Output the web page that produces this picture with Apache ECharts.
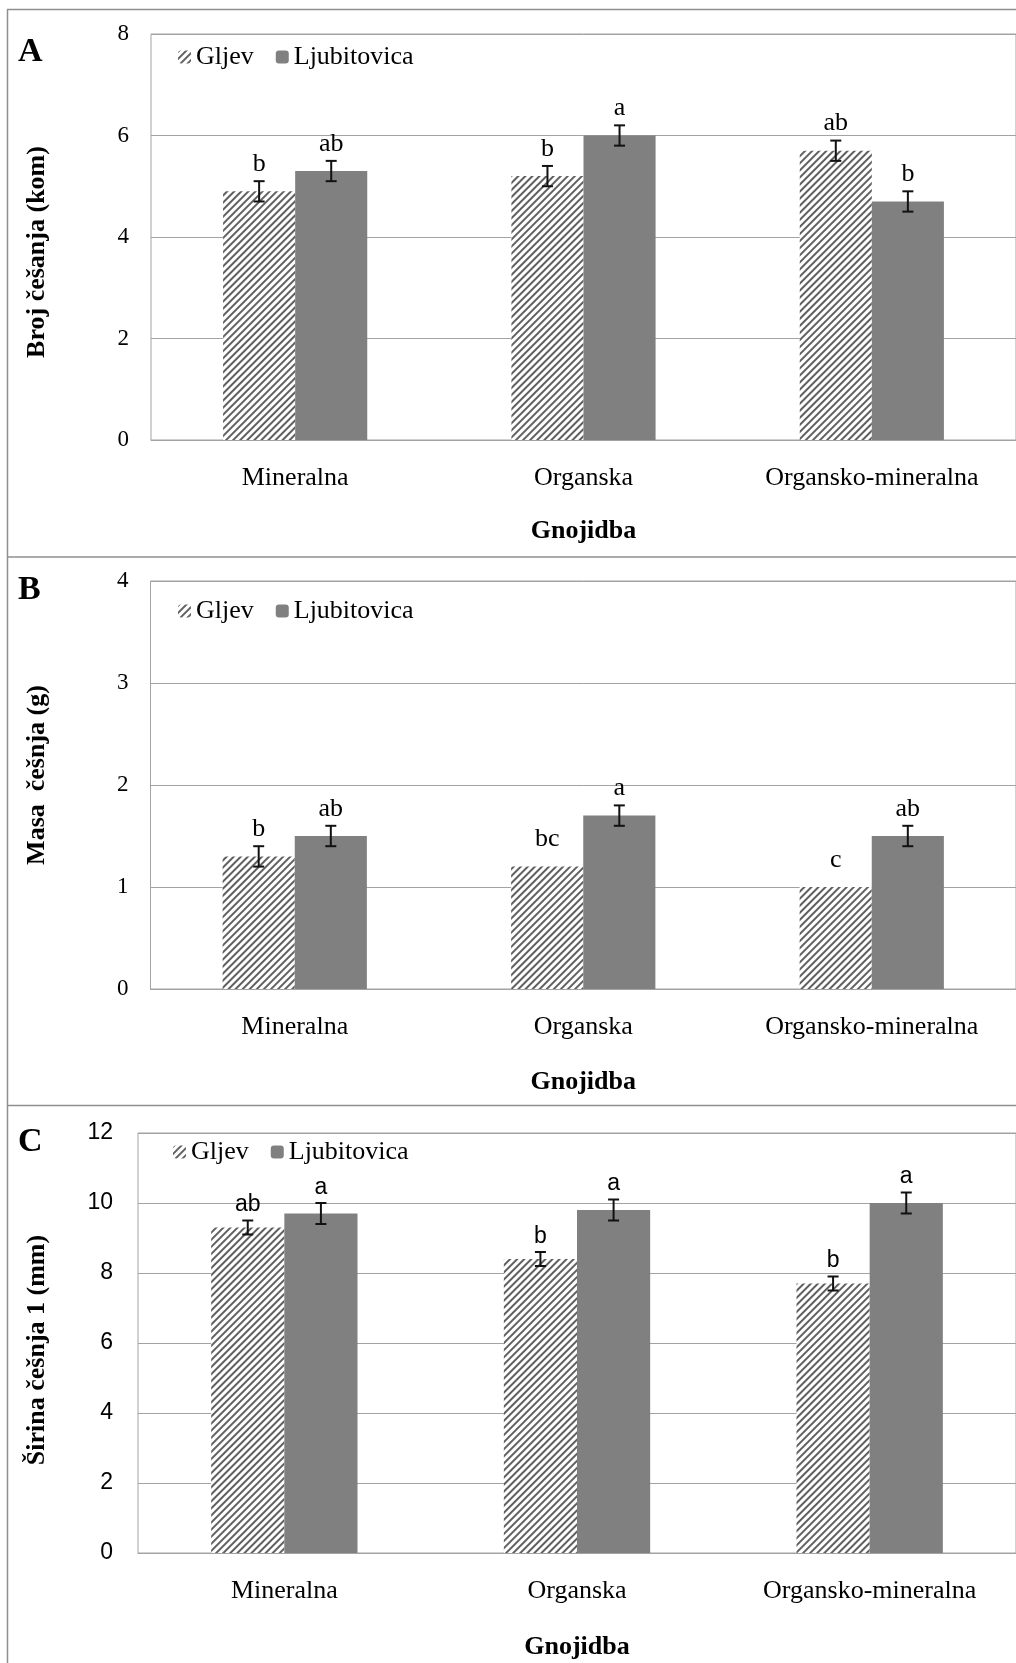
<!DOCTYPE html>
<html>
<head>
<meta charset="utf-8">
<script src="https://cdn.jsdelivr.net/npm/echarts@6/dist/echarts.min.js"></script>
<style>
  html, body { margin: 0; padding: 0; background: #fff; }
  #chart { width: 1016px; height: 1663px; }
</style>
</head>
<body>
<div id="chart"></div>
<script>
// Fertilisation treatments and garlic cultivars
const categories = ['Mineralna', 'Organska', 'Organsko-mineralna'];
const cultivars = ['Gljev', 'Ljubitovica'];

// A: number of cloves (kom)
const brojGljev = [4.9, 5.2, 5.7];
const brojLjub = [5.3, 6.0, 4.7];
const brojGljevErr = [0.2, 0.2, 0.2];
const brojLjubErr = [0.2, 0.2, 0.2];
const brojGljevLetters = ['b', 'b', 'ab'];
const brojLjubLetters = ['ab', 'a', 'b'];
const brojTicks = [0, 2, 4, 6, 8];

// B: clove mass (g)
const masaGljev = [1.3, 1.2, 1.0];
const masaLjub = [1.5, 1.7, 1.5];
const masaGljevErr = [0.1, 0.1, 0.1];
const masaLjubErr = [0.1, 0.1, 0.1];
const masaGljevErrDrawn = [true, false, false];
const masaLjubErrDrawn = [true, true, true];
const masaGljevLetters = ['b', 'bc', 'c'];
const masaLjubLetters = ['ab', 'a', 'ab'];
const masaTicks = [0, 1, 2, 3, 4];

// C: clove width 1 (mm)
const sirinaGljev = [9.3, 8.4, 7.7];
const sirinaLjub = [9.7, 9.8, 10.0];
const sirinaGljevErr = [0.2, 0.2, 0.2];
const sirinaLjubErr = [0.3, 0.3, 0.3];
const sirinaGljevLetters = ['ab', 'b', 'b'];
const sirinaLjubLetters = ['a', 'a', 'a'];
const sirinaTicks = [0, 2, 4, 6, 8, 10, 12];

const SERIF = "'Liberation Serif', 'Times New Roman', serif";
const SANS = "'Liberation Sans', Arial, sans-serif";
const GRID_GRAY = '#a3a3a3';
const FRAME_GRAY = '#8f8f8f';
const BAR_GRAY = '#808080';

const panels = [
  {
    letter: 'A', letterY: 52, yTitle: 'Broj češanja (kom)', yTitleY: 252,
    grid: { left: 151, top: 34, width: 865, height: 406 },
    legendTop: 44, legendLeft: 178, nameGap: 78,
    tickFont: SERIF, tickSize: 23, tickMargin: 22,
    letterFont: SERIF, letterSize: 26, letterLift: 4,
    ticks: brojTicks,
    g: brojGljev, l: brojLjub, gErr: brojGljevErr, lErr: brojLjubErr,
    gDrawn: [true, true, true], lDrawn: [true, true, true],
    gLet: brojGljevLetters, lLet: brojLjubLetters
  },
  {
    letter: 'B', letterY: 590, yTitle: 'Masa  češnja (g)', yTitleY: 775,
    grid: { left: 150.5, top: 581, width: 868, height: 408 },
    legendTop: 598, legendLeft: 178, nameGap: 80,
    tickFont: SERIF, tickSize: 23, tickMargin: 22,
    letterFont: SERIF, letterSize: 26, letterLift: 4,
    ticks: masaTicks,
    g: masaGljev, l: masaLjub, gErr: masaGljevErr, lErr: masaLjubErr,
    gDrawn: masaGljevErrDrawn, lDrawn: masaLjubErrDrawn,
    gLet: masaGljevLetters, lLet: masaLjubLetters
  },
  {
    letter: 'C', letterY: 1142, yTitle: 'Širina češnja 1 (mm)', yTitleY: 1350,
    grid: { left: 138, top: 1133, width: 881, height: 420 },
    legendTop: 1139, legendLeft: 173, nameGap: 81,
    tickFont: SANS, tickSize: 23, tickMargin: 25,
    letterFont: SANS, letterSize: 23, letterLift: 4,
    ticks: sirinaTicks,
    g: sirinaGljev, l: sirinaLjub, gErr: sirinaGljevErr, lErr: sirinaLjubErr,
    gDrawn: [true, true, true], lDrawn: [true, true, true],
    gLet: sirinaGljevLetters, lLet: sirinaLjubLetters
  }
];

// Diagonal "////" hatching for the Gljev bars
const hatch = {
  symbol: 'rect',
  symbolSize: 1,
  color: '#606060',
  dashArrayX: [1, 0],
  dashArrayY: [1.8, 2.2],
  rotation: -Math.PI / 4
};

// Error bar with the significance letter above it
function errorBars(sign, letters, p) {
  return function (params, api) {
    const ci = api.value(0), v = api.value(1), e = api.value(2), drawn = api.value(3);
    const band = api.size([1, 0])[0];
    const cx = api.coord([ci, 0])[0] + sign * band / 8;
    const yTop = api.coord([ci, v + e])[1];
    const yBot = api.coord([ci, v - e])[1];
    const cap = 5.5;
    const st = { stroke: '#111', lineWidth: 2 };
    const children = [];
    if (drawn) {
      children.push({ type: 'line', shape: { x1: cx, y1: yTop, x2: cx, y2: yBot }, style: st });
      children.push({ type: 'line', shape: { x1: cx - cap, y1: yTop, x2: cx + cap, y2: yTop }, style: st });
      children.push({ type: 'line', shape: { x1: cx - cap, y1: yBot, x2: cx + cap, y2: yBot }, style: st });
    }
    children.push({
      type: 'text',
      style: {
        text: letters[params.dataIndex], x: cx, y: yTop - p.letterLift,
        align: 'center', verticalAlign: 'bottom',
        font: p.letterSize + 'px ' + p.letterFont, fill: '#000'
      }
    });
    return { type: 'group', children: children };
  };
}

const option = {
  animation: false,
  backgroundColor: '#fff',
  grid: [], xAxis: [], yAxis: [], series: [], legend: [], graphic: []
};

panels.forEach(function (p, i) {
  const t = p.ticks;
  option.grid.push(Object.assign({
    show: true, borderColor: GRID_GRAY, borderWidth: 1, backgroundColor: '#fff'
  }, p.grid));
  option.xAxis.push({
    type: 'category', gridIndex: i, data: categories,
    name: 'Gnojidba', nameLocation: 'middle', nameGap: p.nameGap,
    nameTextStyle: { fontFamily: SERIF, fontWeight: 'bold', fontSize: 26, color: '#000' },
    axisLine: { show: true, lineStyle: { color: GRID_GRAY, width: 1 } },
    axisTick: { show: false },
    axisLabel: { fontFamily: SERIF, fontSize: 26, color: '#000', margin: 25, interval: 0 }
  });
  option.yAxis.push({
    type: 'value', gridIndex: i,
    min: t[0], max: t[t.length - 1], interval: t[1] - t[0],
    axisLine: { show: false }, axisTick: { show: false },
    splitLine: { show: true, lineStyle: { color: GRID_GRAY, width: 1 } },
    axisLabel: { fontFamily: p.tickFont, fontSize: p.tickSize, color: '#000', margin: p.tickMargin }
  });
  option.series.push({
    name: cultivars[0], type: 'bar', xAxisIndex: i, yAxisIndex: i,
    data: p.g, barGap: '0%', barCategoryGap: '50%',
    itemStyle: { color: '#fff', decal: hatch }, silent: true
  });
  option.series.push({
    name: cultivars[1], type: 'bar', xAxisIndex: i, yAxisIndex: i,
    data: p.l, barGap: '0%', barCategoryGap: '50%',
    itemStyle: { color: BAR_GRAY }, silent: true
  });
  option.series.push({
    name: 'err-g-' + i, type: 'custom', xAxisIndex: i, yAxisIndex: i, z: 5, silent: true, clip: false,
    renderItem: errorBars(-1, p.gLet, p),
    data: p.g.map(function (v, j) { return [j, v, p.gErr[j], p.gDrawn[j] ? 1 : 0]; })
  });
  option.series.push({
    name: 'err-l-' + i, type: 'custom', xAxisIndex: i, yAxisIndex: i, z: 5, silent: true, clip: false,
    renderItem: errorBars(1, p.lLet, p),
    data: p.l.map(function (v, j) { return [j, v, p.lErr[j], p.lDrawn[j] ? 1 : 0]; })
  });
  option.legend.push({
    data: cultivars, left: p.legendLeft, top: p.legendTop, padding: 0,
    itemWidth: 13, itemHeight: 13, itemGap: 22, selectedMode: false,
    textStyle: { fontFamily: SERIF, fontSize: 26, color: '#000' }
  });
  option.graphic.push({
    type: 'text', x: 18, y: p.letterY, silent: true,
    style: { text: p.letter, font: 'bold 34px ' + SERIF, fill: '#000', align: 'left', verticalAlign: 'middle' }
  });
  option.graphic.push({
    type: 'text', x: 37, y: p.yTitleY, rotation: Math.PI / 2, silent: true,
    style: { text: p.yTitle, font: 'bold 26px ' + SERIF, fill: '#000', align: 'center', verticalAlign: 'middle' }
  });
});

// Outer frame and panel separators
[
  { x1: 7.5, y1: 9.5, x2: 7.5, y2: 1663 },
  { x1: 7, y1: 9.5, x2: 1016, y2: 9.5 },
  { x1: 7, y1: 557, x2: 1016, y2: 557 },
  { x1: 7, y1: 1105.5, x2: 1016, y2: 1105.5 }
].forEach(function (s) {
  option.graphic.push({ type: 'line', silent: true, shape: s, style: { stroke: FRAME_GRAY, lineWidth: 1.5 } });
});

const chart = echarts.init(document.getElementById('chart'), null, { renderer: 'canvas' });
chart.setOption(option);
</script>
</body>
</html>
